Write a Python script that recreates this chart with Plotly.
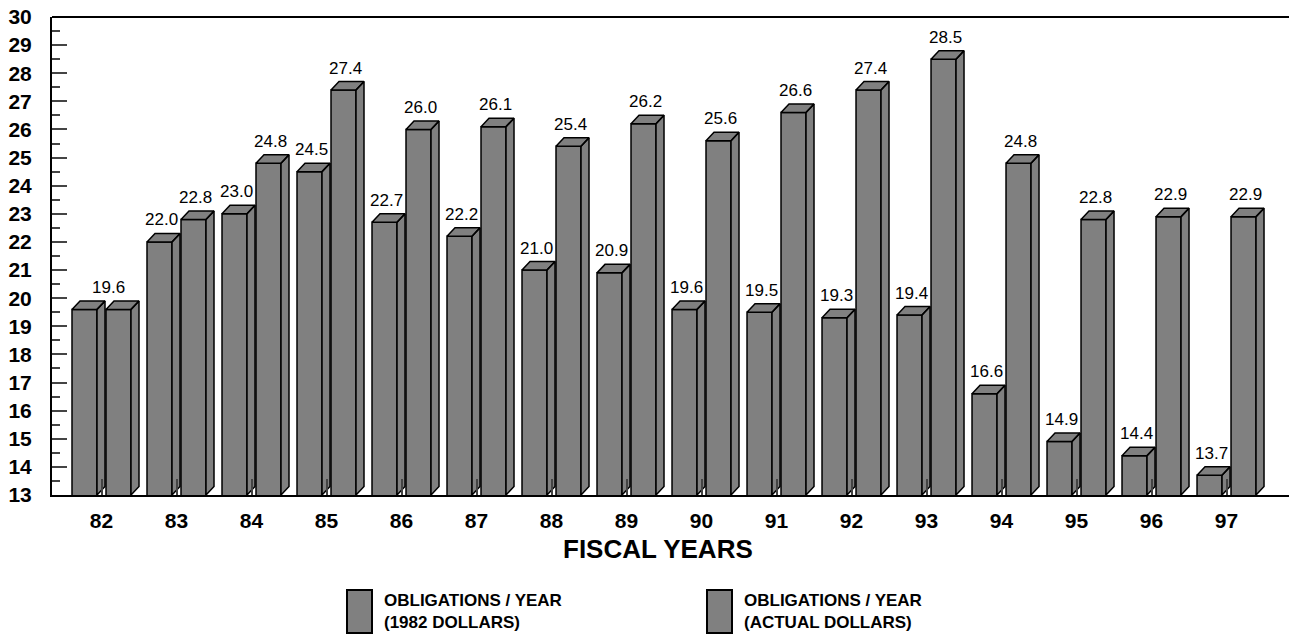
import plotly.graph_objects as go

# Fiscal years and obligations ($ billions)
YEARS = [82, 83, 84, 85, 86, 87, 88, 89, 90, 91, 92, 93, 94, 95, 96, 97]
YEAR_LABELS = [str(y) for y in YEARS]
CONST_1982 = [19.6, 22.0, 23.0, 24.5, 22.7, 22.2, 21.0, 20.9, 19.6, 19.5, 19.3, 19.4, 16.6, 14.9, 14.4, 13.7]
ACTUAL = [19.6, 22.8, 24.8, 27.4, 26.0, 26.1, 25.4, 26.2, 25.6, 26.6, 27.4, 28.5, 24.8, 22.8, 22.9, 22.9]
SERIES_NAMES = ["OBLIGATIONS / YEAR<br>(1982 DOLLARS)", "OBLIGATIONS / YEAR<br>(ACTUAL DOLLARS)"]
Y_TICKS = list(range(13, 31))

# geometry (x in category units, y in data units)
Y_MIN, Y_MAX = 13, 30
X_MIN, X_MAX = 81.34, 97.833
W = 0.3333             # front face width
OFFSETS = [-0.3933, 0.06]
DX = 8 / 75.0          # depth of the 3-D side face
DY = 8.5 / 28.12

FILL = "#808080"
EDGE = "#000000"
FONT = "Liberation Sans, Arial, sans-serif"

fig = go.Figure()

series = [CONST_1982, ACTUAL]
for name, vals, off in zip(SERIES_NAMES, series, OFFSETS):
    # side and top faces as filled polygons
    xs, ys = [], []
    for c, v in zip(YEARS, vals):
        x0 = c + off
        x1 = x0 + W
        # side face
        xs += [x1, x1 + DX, x1 + DX, x1, x1, None]
        ys += [Y_MIN, Y_MIN + DY, v + DY, v, Y_MIN, None]
        # top face
        xs += [x0, x0 + DX, x1 + DX, x1, x0, None]
        ys += [v, v + DY, v + DY, v, v, None]
    fig.add_trace(go.Scatter(
        x=xs, y=ys, mode="lines", fill="toself", fillcolor=FILL,
        line=dict(color=EDGE, width=1.5), hoverinfo="skip", showlegend=False,
    ))
    # front faces
    fig.add_trace(go.Bar(
        x=YEARS, y=vals, name=name, width=W, offset=off,
        marker=dict(color=FILL, line=dict(color=EDGE, width=1.5)),
        showlegend=False,
    ))

# value labels above each bar (one label when both bars of a year agree)
for i, c in enumerate(YEARS):
    a, b = CONST_1982[i], ACTUAL[i]
    if a == b:
        fig.add_annotation(x=c + 0.09, y=a, text=f"{a:.1f}", showarrow=False,
                           yshift=22, font=dict(family=FONT, size=17, color="#000"))
        continue
    for vals, off in zip(series, OFFSETS):
        v = vals[i]
        fig.add_annotation(x=c + off + W / 2 + 0.02, y=v, text=f"{v:.1f}",
                           showarrow=False, yshift=22,
                           font=dict(family=FONT, size=17, color="#000"))

# axis title and unit caption
fig.add_annotation(xref="paper", yref="paper", x=(658 - 52) / 1237, y=-(549 - 495) / 478,
                   text="<b>FISCAL YEARS</b>", showarrow=False, xanchor="center", yanchor="middle",
                   font=dict(family=FONT, size=26, color="#000"))
fig.add_annotation(xref="paper", yref="paper", x=(173 - 52) / 1237, y=1 + (17 + 11) / 478,
                   text="<b>(BILLIONS)</b>", showarrow=False, xanchor="center", yanchor="middle",
                   font=dict(family=FONT, size=18, color="#000"))

# legend swatches and text
legend_x = [347, 707]
for name, lx in zip(SERIES_NAMES, legend_x):
    fig.add_shape(type="rect", xref="paper", yref="paper",
                  x0=(lx - 52) / 1237, x1=(lx + 25 - 52) / 1237,
                  y0=-(590 - 495) / 478, y1=-(633 - 495) / 478,
                  fillcolor=FILL, line=dict(color=EDGE, width=2))
    fig.add_annotation(xref="paper", yref="paper", x=(lx + 35 - 52) / 1237, y=-(611 - 495) / 478,
                       text=f"<b>{name}</b>", showarrow=False, xanchor="left", yanchor="middle",
                       align="left", font=dict(family=FONT, size=17, color="#000"))

# top frame line
fig.add_shape(type="line", xref="paper", yref="paper", x0=0, x1=1, y0=1, y1=1,
              line=dict(color=EDGE, width=2))

fig.update_layout(
    width=1289, height=638,
    margin=dict(l=52, r=0, t=17, b=143),
    paper_bgcolor="white", plot_bgcolor="white",
    barmode="overlay",
    showlegend=False,
    xaxis=dict(
        range=[X_MIN, X_MAX], tickmode="array", tickvals=YEARS, ticktext=YEAR_LABELS,
        ticks="inside", ticklen=16, tickwidth=1.5, tickcolor="#444",
        showline=True, linecolor=EDGE, linewidth=2, showgrid=False, zeroline=False,
        tickfont=dict(family=FONT, size=21, color="#000", weight="bold"),
        ticklabelstandoff=6,
    ),
    yaxis=dict(
        range=[Y_MIN, Y_MAX], tickmode="array", tickvals=Y_TICKS,
        ticks="inside", ticklen=15, tickwidth=1.5, tickcolor="#444",
        minor=dict(dtick=0.5, ticks="inside", ticklen=8, tickwidth=1.5, tickcolor="#444", showgrid=False),
        showline=True, linecolor=EDGE, linewidth=2, showgrid=False, zeroline=False,
        tickfont=dict(family=FONT, size=21, color="#000", weight="bold"),
        ticklabelstandoff=14,
    ),
)

fig.write_html("out.html")
